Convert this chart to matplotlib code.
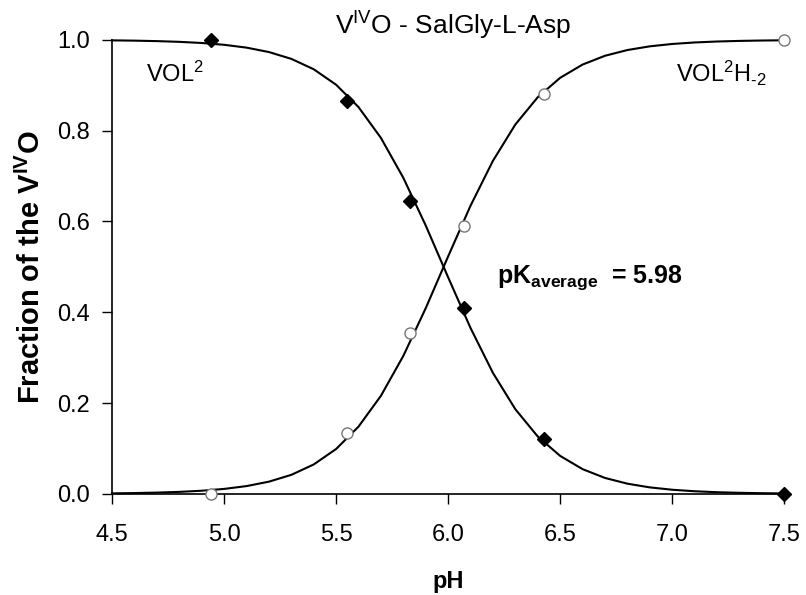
import numpy as np
import matplotlib
matplotlib.use("Agg")
import matplotlib.pyplot as plt

plt.rcParams['font.family'] = ['Liberation Sans', 'DejaVu Sans']
plt.rcParams['mathtext.fontset'] = 'custom'
plt.rcParams['mathtext.rm'] = 'Liberation Sans'
plt.rcParams['mathtext.it'] = 'Liberation Sans'
plt.rcParams['mathtext.bf'] = 'Liberation Sans:bold'

# dados experimentais
ph = [4.94, 5.55, 5.83, 6.07, 6.43, 7.50]
frac_vol2 = [1.00, 0.865, 0.645, 0.41, 0.12, 0.00]
frac_vol2h = [0.00, 0.135, 0.355, 0.59, 0.88, 1.00]

# parametros do ajuste (pK medio, 2 protons)
pk_avg = 5.98
n_prot = 2

x_ticks = [4.5, 5.0, 5.5, 6.0, 6.5, 7.0, 7.5]
y_ticks = [0.0, 0.2, 0.4, 0.6, 0.8, 1.0]

# curva ajustada
ph_fit = np.arange(4.5, 7.51, 0.1)
fit_vol2 = 1 / (1 + 10 ** (n_prot * (ph_fit - pk_avg)))
fit_vol2h = 1 - fit_vol2

fig = plt.figure(figsize=(8.06, 5.95), dpi=100)
ax = fig.add_axes([0.139, 0.170, 0.834, 0.763])

ax.plot(ph_fit, fit_vol2, color='black', lw=1.5, zorder=2, clip_on=False)
ax.plot(ph_fit, fit_vol2h, color='black', lw=1.5, zorder=2, clip_on=False)
ax.plot(ph, frac_vol2, linestyle='none', marker='D', ms=7.5, color='black',
        zorder=3, clip_on=False)
ax.plot(ph, frac_vol2h, linestyle='none', marker='o', ms=8, mfc='white',
        mec='#777777', mew=1, zorder=3, clip_on=False)

ax.set_xlim(4.5, 7.5)
ax.set_ylim(0, 1.0)
ax.set_xticks(x_ticks)
ax.set_yticks(y_ticks)
ax.set_xticklabels(['%.1f' % v for v in x_ticks])
ax.set_yticklabels(['%.1f' % v for v in y_ticks])
ax.tick_params(direction='out', length=7, width=1, labelsize=17)
ax.tick_params(axis='x', pad=15)
ax.tick_params(axis='y', pad=9)
for s in ['top', 'right']:
    ax.spines[s].set_visible(False)
for s in ['left', 'bottom']:
    ax.spines[s].set_linewidth(1.2)

ax.set_xlabel('pH', fontsize=17, fontweight='bold', labelpad=17)
ax.set_ylabel(r'Fraction of the V$^{\mathbf{IV}}$O', fontsize=21,
              fontweight='bold', labelpad=8)

ax.text(6.02, 1.03, r'V$^{\mathregular{IV}}$O - SalGly-L-Asp', fontsize=19,
        ha='center', va='center')
ax.text(4.65, 0.925, r'VOL$^{\mathregular{2}}$', fontsize=17, ha='left', va='center')
ax.text(7.42, 0.925, 'VOL$^{\\mathregular{2}}$H$_{\\mathregular{\u20102}}$',
        fontsize=17, ha='right', va='center')
ax.text(6.22, 0.476, r'pK$_{\mathbf{average}}$  = 5.98', fontsize=18,
        fontweight='bold', ha='left', va='center')

fig.savefig('out.png', dpi=100)
